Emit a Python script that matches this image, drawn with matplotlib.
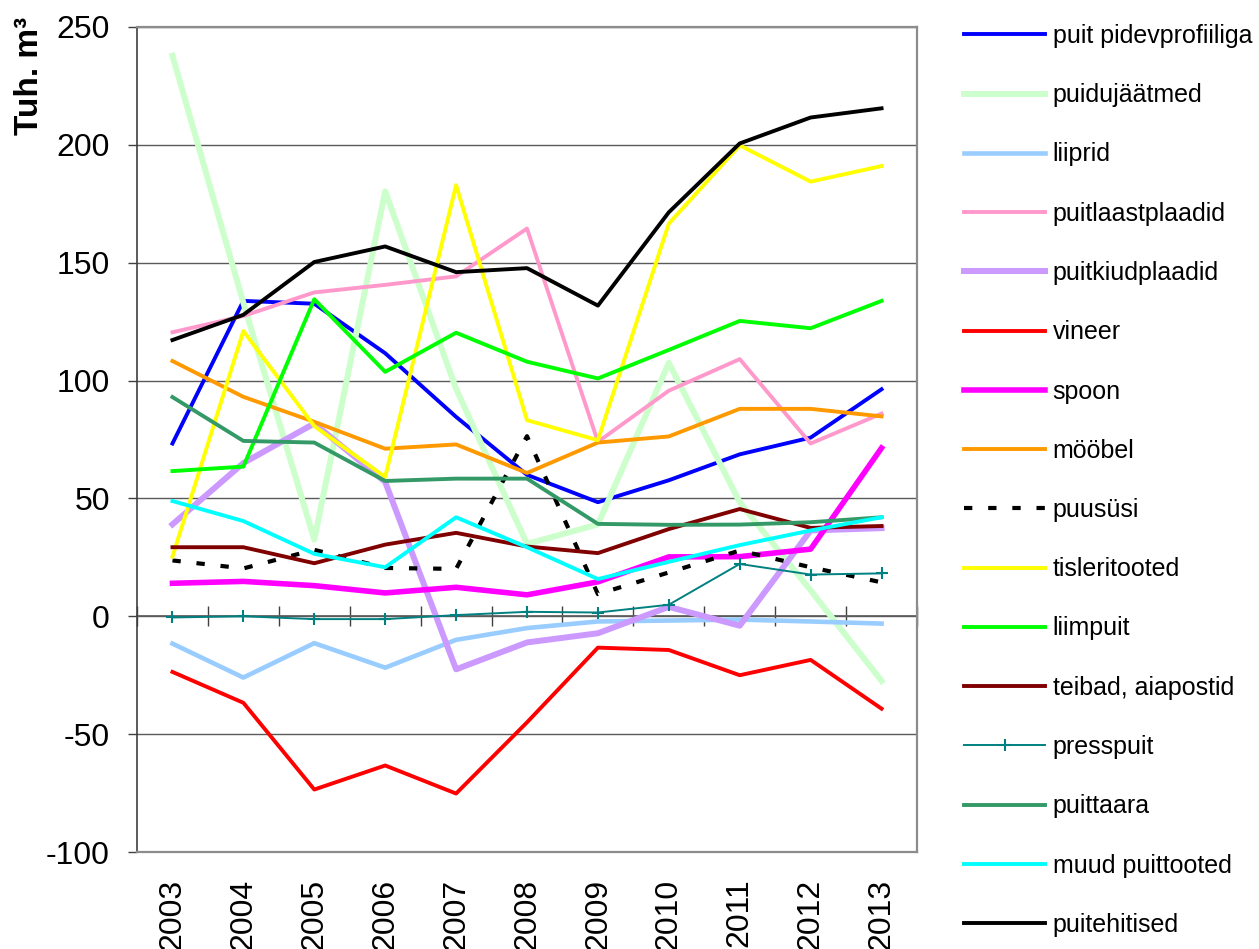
import matplotlib
matplotlib.use("Agg")
import matplotlib.pyplot as plt

plt.rcParams['font.family'] = ['Liberation Sans', 'DejaVu Sans']
plt.rcParams['axes.unicode_minus'] = False

years = ['2003', '2004', '2005', '2006', '2007', '2008', '2009', '2010', '2011', '2012', '2013']

puit_pidevprofiiliga = [73.3, 133.8, 132.6, 111.6, 84.6, 60.0, 48.4, 57.7, 68.7, 75.8, 96.3]
puidujaatmed = [237.8, 133.0, 32.5, 180.3, 96.5, 30.7, 39.0, 107.5, 48.4, 11.0, -27.4]
liiprid = [-11.6, -26.0, -11.4, -21.8, -10.0, -5.0, -2.2, -1.8, -1.4, -2.2, -3.1]
puitlaastplaadid = [120.5, 127.4, 137.4, 140.6, 144.2, 164.5, 74.0, 95.7, 109.1, 73.3, 86.0]
puitkiudplaadid = [39.0, 65.0, 81.8, 57.0, -22.5, -11.1, -7.2, 4.0, -4.0, 36.4, 37.4]
vineer = [-23.6, -36.7, -73.5, -63.3, -75.2, -45.0, -13.3, -14.3, -25.0, -18.5, -39.2]
spoon = [14.0, 14.8, 13.0, 9.9, 12.3, 9.1, 14.6, 25.2, 25.3, 28.5, 71.4]
moobel = [108.3, 93.1, 82.5, 71.1, 72.9, 60.8, 73.7, 76.3, 88.0, 88.0, 84.8]
puususi = [23.7, 20.3, 28.2, 20.5, 20.1, 76.4, 9.4, 18.6, 27.9, 20.8, 14.4]
tisleritooted = [25.3, 121.0, 80.7, 59.1, 182.9, 83.2, 74.7, 166.6, 199.8, 184.4, 191.0]
liimpuit = [61.6, 63.5, 134.5, 103.7, 120.3, 108.0, 100.9, 113.0, 125.3, 122.2, 133.8]
teibad_aiapostid = [29.3, 29.3, 22.5, 30.4, 35.4, 29.6, 26.8, 37.0, 45.5, 37.5, 38.3]
presspuit = [-0.5, 0.0, -1.2, -1.2, 0.5, 1.9, 1.6, 4.9, 22.2, 17.7, 18.2]
puittaara = [93.0, 74.4, 73.7, 57.4, 58.4, 58.4, 39.2, 38.8, 38.9, 39.9, 42.0]
muud_puittooted = [48.9, 40.4, 26.5, 20.8, 42.0, 29.3, 15.8, 23.1, 30.2, 36.4, 42.0]
puitehitised = [117.2, 127.9, 150.3, 156.9, 146.0, 147.7, 131.8, 171.4, 200.6, 211.6, 215.5]

series = [
    ('puit pidevprofiiliga', puit_pidevprofiiliga, dict(color='#0000FF', lw=2.8)),
    ('puidujäätmed', puidujaatmed, dict(color='#CCFFCC', lw=4.3)),
    ('liiprid', liiprid, dict(color='#99CCFF', lw=3.3)),
    ('puitlaastplaadid', puitlaastplaadid, dict(color='#FF99CC', lw=2.8)),
    ('puitkiudplaadid', puitkiudplaadid, dict(color='#CC99FF', lw=4.3)),
    ('vineer', vineer, dict(color='#FF0000', lw=2.8)),
    ('spoon', spoon, dict(color='#FF00FF', lw=4.0)),
    ('mööbel', moobel, dict(color='#FF9900', lw=2.8)),
    ('puusüsi', puususi, dict(color='#000000', lw=3.0, linestyle=(0, (2, 3.8)), dash_capstyle='butt')),
    ('tisleritooted', tisleritooted, dict(color='#FFFF00', lw=2.8)),
    ('liimpuit', liimpuit, dict(color='#00FF00', lw=2.8)),
    ('teibad, aiapostid', teibad_aiapostid, dict(color='#800000', lw=2.8)),
    ('presspuit', presspuit, dict(color='#008080', lw=1.4, marker='+', markersize=8, markeredgewidth=1.5)),
    ('puittaara', puittaara, dict(color='#339966', lw=2.8)),
    ('muud puittooted', muud_puittooted, dict(color='#00FFFF', lw=2.8)),
    ('puitehitised', puitehitised, dict(color='#000000', lw=2.8)),
]

W, H = 1259, 949
fig = plt.figure(figsize=(W / 100, H / 100), dpi=100)
ax = fig.add_axes([137 / W, 1 - 852 / H, (917 - 137) / W, (852 - 27) / H])

x = list(range(len(years)))
for name, vals, style in series:
    ax.plot(x, vals, label=name, **style)

ax.set_xlim(-0.5, len(years) - 0.5)
ax.set_ylim(-100, 250)
ax.set_yticks(range(-100, 251, 50))
ax.yaxis.grid(True, color='#5a5a5a', lw=1.0)
ax.set_axisbelow(True)

ax.set_xticks(x)
ax.set_xticklabels(years, rotation=90, fontsize=23)
ax.tick_params(axis='x', length=0, pad=19)
ax.tick_params(axis='y', labelsize=23, length=6.5, width=1, color='#404040', pad=13)

for side in ('top', 'right', 'bottom'):
    ax.spines[side].set_color('#8c8c8c')
    ax.spines[side].set_linewidth(1.6)
ax.spines['left'].set_color('#404040')
ax.spines['left'].set_linewidth(1.2)

# category axis crossing at zero, with tick marks between categories
zero_frac = (0 - (-100)) / 350
sec = ax.secondary_xaxis(zero_frac)
sec.set_xticks([i - 0.5 for i in range(len(years) + 1)])
sec.tick_params(axis='x', direction='inout', length=14, width=1, color='#404040',
                labeltop=False, labelbottom=False)
for side in ('bottom', 'top'):
    sec.spines[side].set_color('#5a5a5a')
    sec.spines[side].set_linewidth(1.2)

fig.text(30 / W, 1 - 76 / H, 'Tuh. m³', rotation=90, ha='center', va='center',
         fontsize=24, fontweight='bold')

fig.legend(loc='upper left', bbox_to_anchor=(964 / W, 1 - 24 / H), frameon=False,
           fontsize=18, handlelength=3.25, handletextpad=0.3, labelspacing=1.41,
           borderpad=0, borderaxespad=0)

fig.savefig('out.png', dpi=100)
